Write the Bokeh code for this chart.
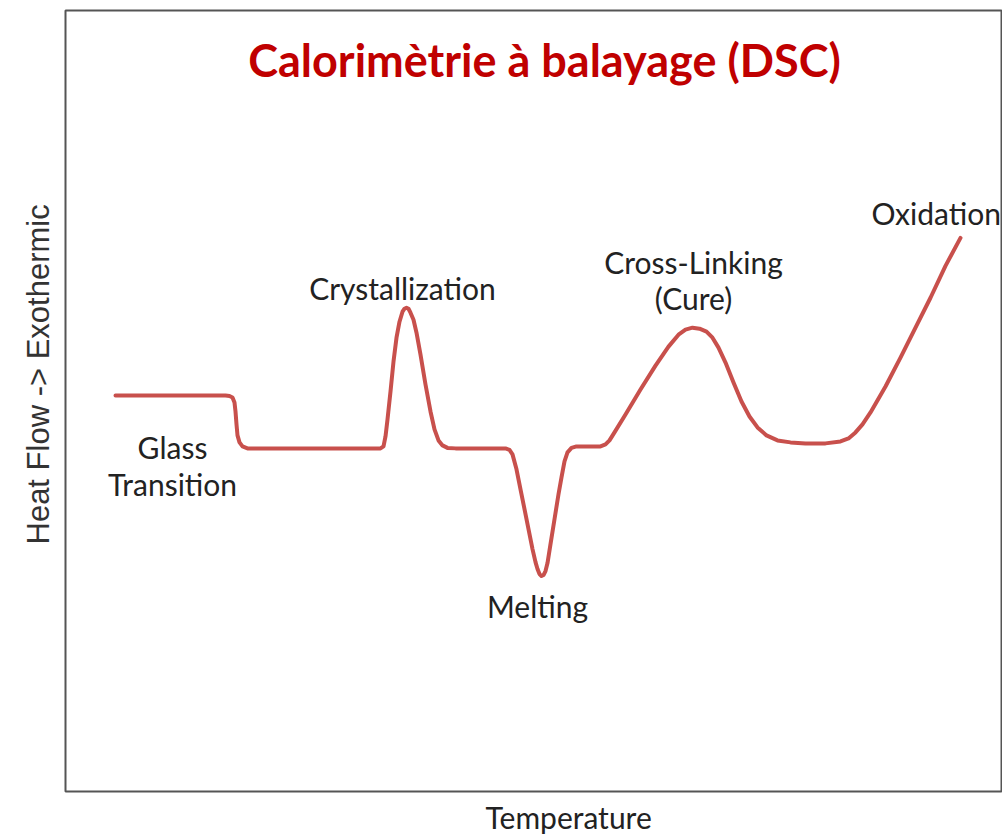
from bokeh.plotting import figure
from bokeh.models import Range1d, Label, ColumnDataSource, Title
from bokeh.core.properties import value
from bokeh.embed import file_html
from bokeh.resources import INLINE

# DSC curve (arbitrary units)
temperature = [25, 80, 82, 83.5, 84.5, 85, 85.5, 86, 87, 88.5, 91, 157.5, 159, 160, 161, 162.5,
               164, 165.5, 167, 168.5, 169.5, 170.5, 171.5, 172.5, 174, 175.5, 177.5, 180, 182.5,
               184.5, 186.5, 188.5, 191, 195, 220, 222, 223.5, 225.5, 227.5, 229.5, 231.5, 233.5,
               235, 236, 237, 238, 239, 240, 241, 242.5, 244.5, 246.5, 248, 249.5, 251, 253,
               255.5, 267.5, 270, 272, 274.5, 280, 287.5, 295, 301.5, 306.5, 310, 313.5, 317,
               320.5, 323.5, 326.5, 330, 334, 338, 342, 346, 350.5, 356, 362.5, 370, 380, 387.5,
               391.5, 395, 398.5, 402.5, 410, 417.5, 425, 432.5, 440, 447.5]
heat_flow = [198.5, 198.5, 198.25, 197.5, 195, 190.5, 184, 178.5, 175, 173, 172, 172, 173, 178,
             186.5, 200.5, 215.5, 227.5, 235.5, 240.5, 242, 242.5, 242, 240, 236.5, 230, 219, 204,
             190.5, 181.5, 176, 173.5, 172.25, 172, 172, 171.25, 169, 161.5, 151.5, 141.5, 131.5,
             121.5, 115, 111.5, 109, 108, 108.5, 110.5, 114.5, 124, 136.5, 149, 157.5, 165.5,
             170, 172.25, 173, 173, 174, 176, 180, 189, 201.5, 213.5, 223, 229, 231.5, 232.5,
             232, 230.5, 227.5, 222.5, 215, 205, 195.5, 188, 182.5, 178.5, 176, 175, 174.5,
             174.5, 175.5, 177, 180, 184, 190, 203, 217.5, 232.5, 247.5, 263.5, 277.5]

# annotations
ann_text = ["Glass", "Transition", "Crystallization", "Cross-Linking", "(Cure)", "Melting"]
ann_x = [53.5, 53.5, 168.5, 314, 314, 236]
ann_y = [172.5, 154, 252.5, 265.5, 247.5, 93]
ox_text = "Oxidation"
ox_x, ox_y = 403, 290

title_text = "Calorimètrie à balayage (DSC)"
x_label = "Temperature"
y_label = "Heat Flow -> Exothermic"

p = figure(width=1002, height=839, output_backend="svg", toolbar_location=None,
           x_range=Range1d(0, 468.5), y_range=Range1d(0, 391.5),
           min_border_left=65, min_border_right=0, min_border_top=10, min_border_bottom=46)
p.xaxis.visible = False
p.yaxis.visible = False
p.grid.visible = False
p.outline_line_color = "#555555"
p.outline_line_width = 2
p.background_fill_color = "white"
p.border_fill_color = "white"

p.add_layout(Title(text=x_label, align="left", offset=420, standoff=10, text_font="Lato",
                   text_font_size="30px", text_font_style="normal", text_color="#222222"), "below")
p.add_layout(Title(text=y_label, align="left", offset=247, standoff=20, text_font="Liberation Sans",
                   text_font_size="31px", text_font_style="normal", text_color="#333333"), "left")

p.line(temperature, heat_flow, line_color="#c8504c", line_width=4, line_join="round", line_cap="round")

src = ColumnDataSource(dict(x=ann_x, y=ann_y, t=ann_text))
p.text("x", "y", text="t", source=src, text_font=value("Lato"), text_font_size="30px",
       text_align="center", text_baseline="middle", text_color="#222222")
p.text([ox_x], [ox_y], text=[ox_text], text_font=value("Lato"), text_font_size="30px",
       text_align="left", text_baseline="middle", text_color="#222222")

p.add_layout(Label(x=239.5, y=366.5, text=title_text, text_font="Lato", text_font_style="bold",
                   text_font_size="45px", text_color="#c00000", text_align="center",
                   text_baseline="middle"))

open("out.html", "w").write(file_html(p, INLINE))
